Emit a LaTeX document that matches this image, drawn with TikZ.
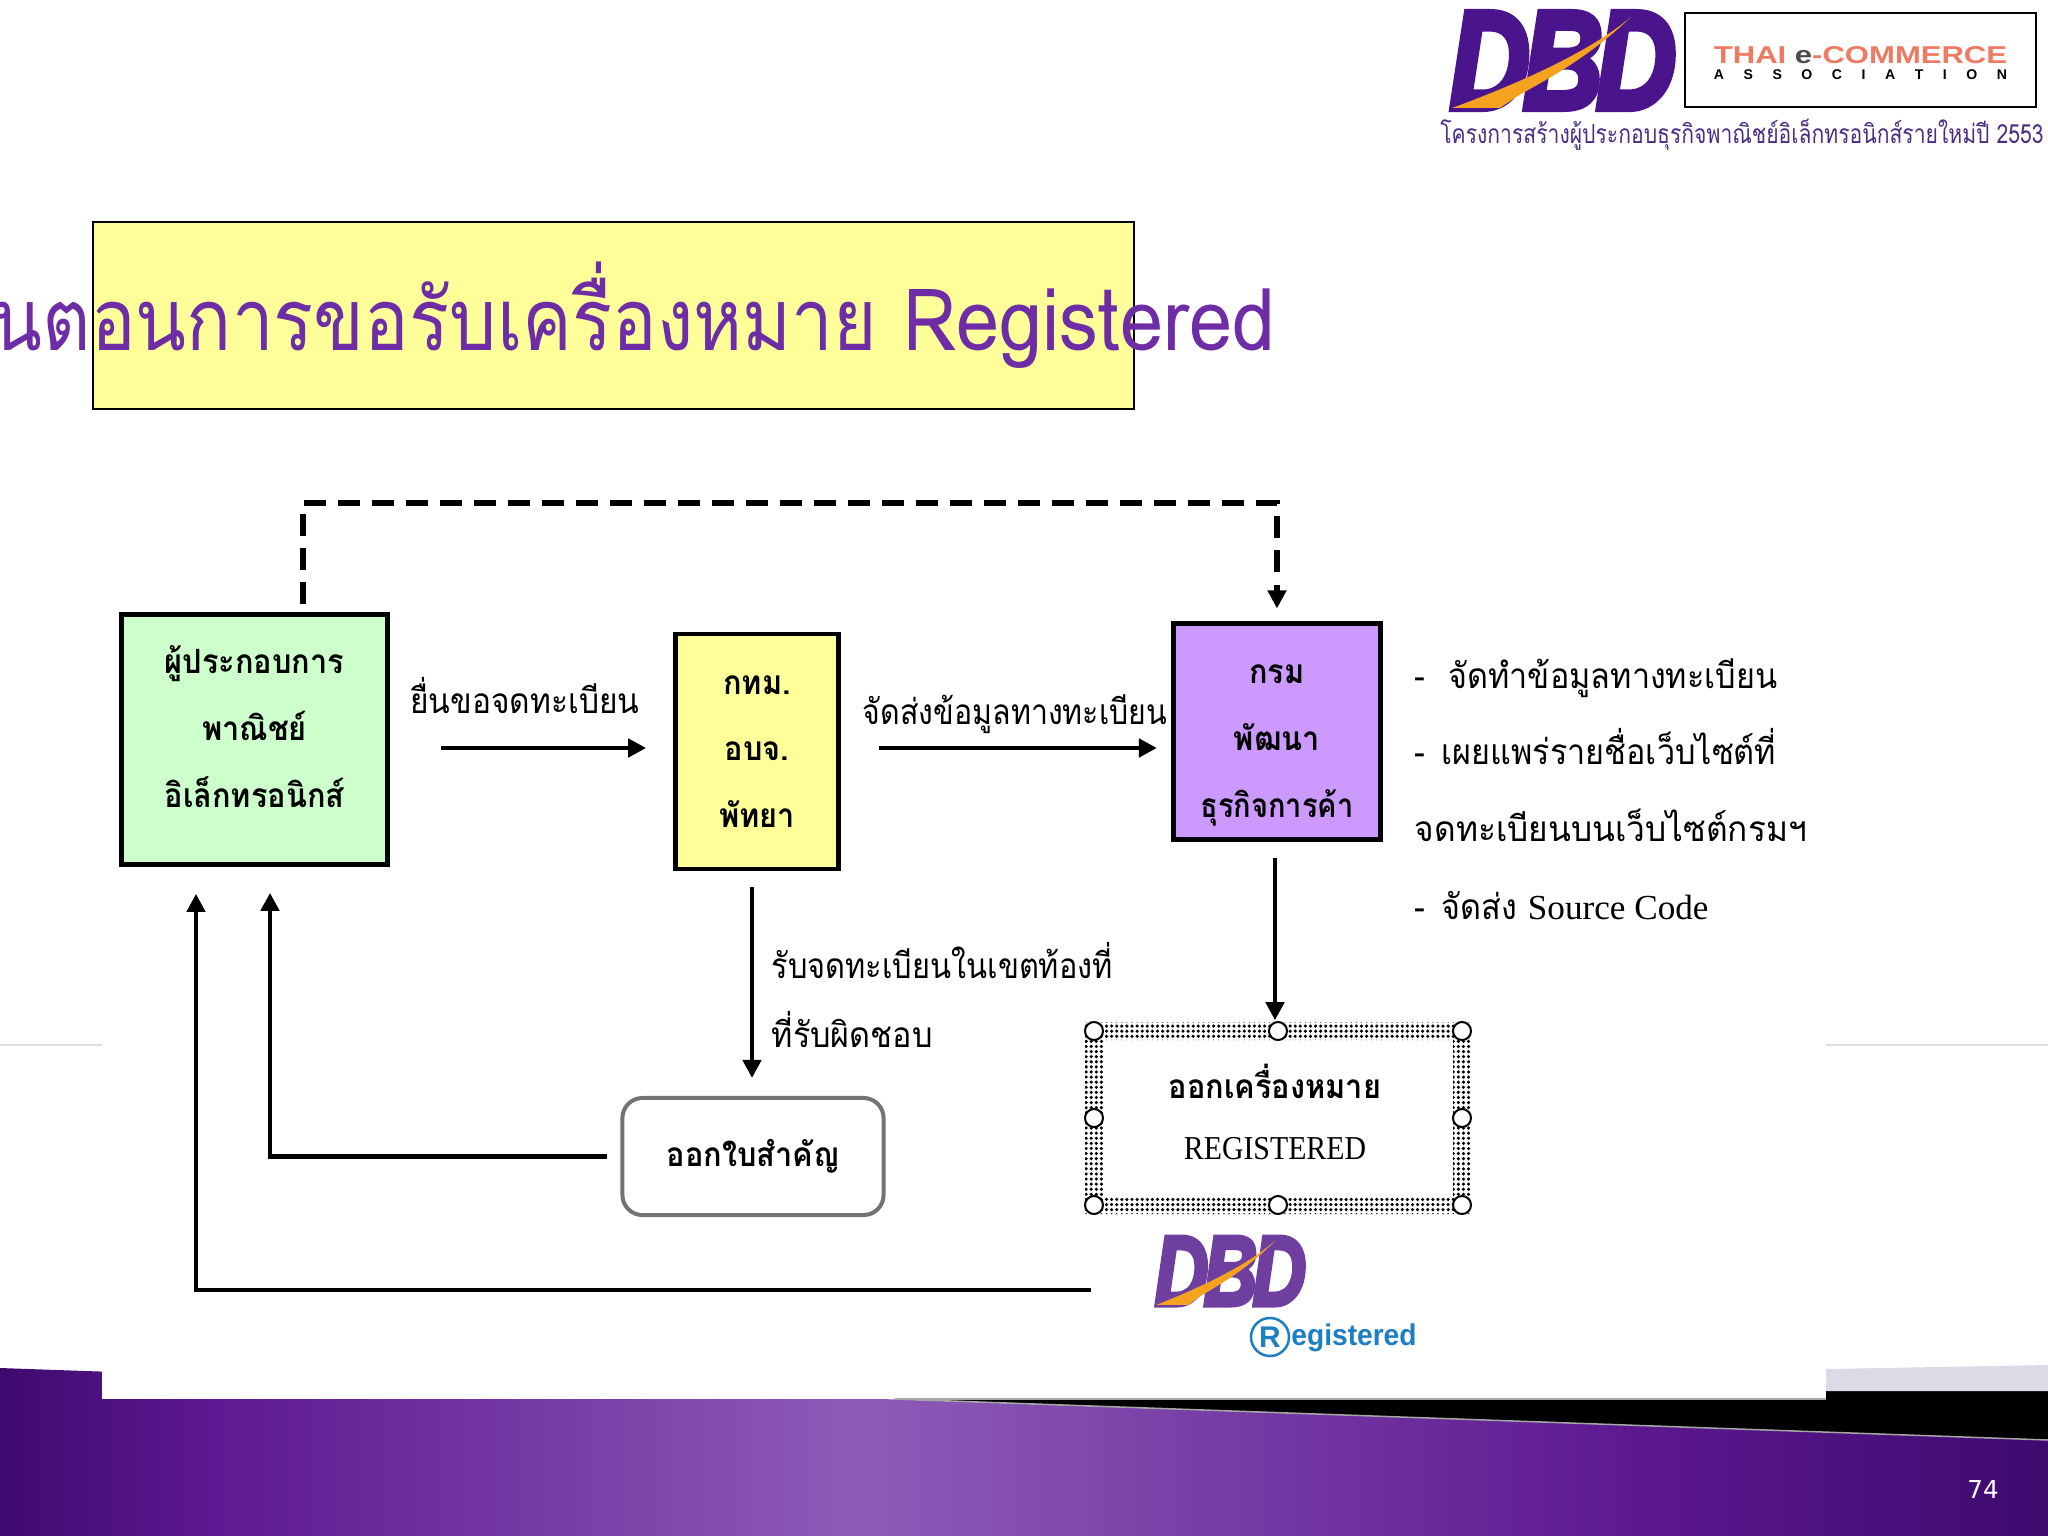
\documentclass[tikz,border=0pt]{standalone}
\usepackage{fontspec}
\usepackage{tikz}
\usetikzlibrary{arrows.meta}
\usetikzlibrary{patterns.meta}
\newfontfamily\thaifont[Script=Thai,FakeStretch=0.92]{Loma}
\newfontfamily\titlefont[Script=Thai,FakeStretch=0.9]{Loma}
\newfontfamily\titlethai[Script=Thai,FakeStretch=0.865]{Loma}
\newfontfamily\latinfont{Liberation Serif}
\newfontfamily\logofont{Liberation Sans}
\newfontfamily\dbdfont[FakeBold=5]{Liberation Sans}
\newfontfamily\numfont{DejaVu Sans}
\definecolor{bandlow}{HTML}{3E0A6E}
\definecolor{bandmid}{HTML}{5C1890}
\definecolor{bandtop}{HTML}{8E5CB8}
\definecolor{dbdpurple}{HTML}{4A148C}
\definecolor{dbdlight}{HTML}{6F3FA0}
\definecolor{swoosh}{HTML}{F5A21E}
\definecolor{titlepurple}{HTML}{6E2CA6}
\definecolor{tecred}{HTML}{EE7A62}
\definecolor{regblue}{HTML}{1C7FC4}
\definecolor{boxgreen}{HTML}{CCFFCC}
\definecolor{boxyellow}{HTML}{FFFF99}
\definecolor{boxpurple}{HTML}{CC99FF}
\definecolor{lavender}{HTML}{DDD9E6}
\definecolor{captionpurple}{HTML}{4B2E83}
\pgfdeclarehorizontalshading{bandshade}{100bp}{color(0bp)=(bandlow); color(25bp)=(bandlow); color(30bp)=(bandmid); color(46bp)=(bandtop); color(65bp)=(bandmid); color(75bp)=(bandlow); color(100bp)=(bandlow)}
% width of a text forced, height left alone
\newcommand{\fitwidth}[2]{\resizebox{#1}{\height}{#2}}
% rows of a box, raised without changing the size of the box
\newcommand{\boxrows}[2]{\raisebox{#1}[0pt][0pt]{\begin{tabular}{@{}c@{}}#2\end{tabular}}}
% swoosh over a DBD logo, box given by corner and size
\newcommand{\dbdswoosh}[3]{
	\fill[swoosh,shift={(#1)},xscale=#2,yscale=#3]
		(0.01,0.97) .. controls (0.25,0.77) and (0.60,0.45) .. (0.80,0.07)
		.. controls (0.60,0.50) and (0.40,0.72) .. (0.30,0.85)
		-- (0.22,0.97) -- cycle;
}

\begin{document}
\begin{tikzpicture}[x=0.01cm,y=-0.01cm,shorten >=0pt,draw=black!100]
	\def \dashlevel{503}
	\def \rowone{748}
	\tikzstyle{box}=[rectangle,draw=black!100,line width=0.045cm,inner sep=0pt,align=center,
		font=\thaifont\bfseries\fontsize{9.5}{19}\selectfont]
	\tikzstyle{g-node}=[box,fill=boxgreen,minimum width=2.66cm,minimum height=2.5cm]
	\tikzstyle{y-node}=[box,fill=boxyellow,minimum width=1.63cm,minimum height=2.35cm]
	\tikzstyle{p-node}=[box,fill=boxpurple,line width=0.05cm,minimum width=2.07cm,minimum height=2.15cm]
	\tikzstyle{c-node}=[box,draw=black!55,line width=0.04cm,rounded corners=0.2cm,minimum width=2.61cm,minimum height=1.17cm]
	\tikzstyle{s-node}=[rectangle,inner sep=0pt,align=center,minimum width=3.68cm,minimum height=1.74cm,
		font=\thaifont\bfseries\fontsize{9.5}{17.6}\selectfont]
	\tikzstyle{handle}=[circle,draw=black!100,fill=white,line width=0.02cm,inner sep=0pt,minimum size=0.18cm]
	\tikzstyle{annot}=[inner sep=0pt,font=\thaifont\fontsize{10}{12}\selectfont]
	\tikzstyle{flow}=[draw=black!100,line width=0.045cm,-{Triangle[length=1.8mm,width=1.8mm]}]
	\tikzstyle{dash-flow}=[flow,line width=0.055cm,dash pattern=on 2.2mm off 1.2mm]

	\useasboundingbox (0,0) rectangle (2048,1536);
	\clip (0,0) rectangle (2048,1536);

	% slide background
	\fill[black!100] (895,1399) -- (1826,1391) -- (2048,1391) -- (2048,1440) -- cycle;
	\fill[lavender] (1826,1369) -- (2048,1365) -- (2048,1391) -- (1826,1391) -- cycle;
	\shade[shading=bandshade] (0,1368) -- (2048,1440) -- (2048,1536) -- (0,1536) -- cycle;
	\draw[black!35,line width=0.015cm] (895,1399) -- (2048,1440);
	\fill[white] (102,0) rectangle (1826,1399);
	\draw[black!35,line width=0.015cm] (895,1399) -- (1826,1399);
	\draw[lavender,line width=0.015cm] (0,1045) -- (102,1045);
	\draw[lavender,line width=0.015cm] (1826,1045) -- (2048,1045);
	\node[text=white,inner sep=0pt,font=\numfont\fontsize{7}{8}\selectfont] (pageno) at (1983,1490) {74};

	% title
	\node[draw=black!100,fill=boxyellow,line width=0.02cm,inner sep=0pt,minimum width=10.41cm,minimum height=1.87cm] (titlebox) at (613.5,315.5) {};
	\node[anchor=east,text=titlepurple,inner sep=0pt,font=\titlefont\fontsize{24.5}{28}\selectfont] (title) at (1276,314) {{\titlethai ขั้นตอนการขอรับเครื่องหมาย} Registered};

	% logos top right
	\node[inner sep=0pt,text=dbdpurple,font=\dbdfont\bfseries\itshape] (dbdtop) at (1563,60.5) {\resizebox{2.26cm}{0.96cm}{D\kern-.06em B\kern-.06em D}};
	\dbdswoosh{1450,10}{226}{101}
	\node[draw=black!100,line width=0.02cm,inner sep=0pt,minimum width=3.51cm,minimum height=0.94cm] (tecbox) at (1860.5,60) {};
	\node[inner sep=0pt,text=tecred,font=\logofont\bfseries] (tecname) at (1860.5,55) {\resizebox{2.93cm}{0.17cm}{THAI {\color{black!70}e}-COMMERCE}};
	\node[inner sep=0pt,font=\logofont\bfseries\fontsize{4}{5}\selectfont] (tecsub) at (1860.5,75) {\makebox[2.93cm][s]{A\hfill S\hfill S\hfill O\hfill C\hfill I\hfill A\hfill T\hfill I\hfill O\hfill N}};
	\node[inner sep=0pt,text=captionpurple,font=\thaifont\fontsize{7.5}{8}\selectfont] (project) at (1742,135) {\fitwidth{6.03cm}{โครงการสร้างผู้ประกอบธุรกิจพาณิชย์อิเล็กทรอนิกส์รายใหม่ปี 2553}};

	% boxes
	\node[g-node] (trader) at (254.5,739.5) {\boxrows{1.3pt}{ผู้ประกอบการ\\พาณิชย์\\อิเล็กทรอนิกส์}};
	\node[y-node] (local) at (757,751.5) {กทม.\\อบจ.\\พัทยา};
	\node[p-node] (dept) at (1277,731.5) {\boxrows{-3.9pt}{กรม\\พัฒนา\\\fitwidth{1.53cm}{ธุรกิจการค้า}}};
	\node[c-node] (cert) at (753,1156.5) {ออกใบสำคัญ};
	\fill[pattern={Dots[distance=1.45pt,radius=0.5pt]},even odd rule] (1085,1022) rectangle (1471,1214) (1103,1040) rectangle (1453,1196);
	\node[s-node] (mark) at (1275,1112) {ออกเครื่องหมาย\\{\latinfont\mdseries \fitwidth{1.82cm}{REGISTERED}}};
	\foreach \px/\py/\nm in {1094/1031/nw,1278/1031/n,1462/1031/ne,1094/1118/w,1462/1118/e,1094/1205/sw,1278/1205/s,1462/1205/se}
		\node[handle] (mark-\nm) at (\px,\py) {};

	% lower logo
	\node[inner sep=0pt,text=dbdlight,font=\dbdfont\bfseries\itshape] (dbdlow) at (1230.5,1271) {\resizebox{1.51cm}{0.68cm}{D\kern-.06em B\kern-.06em D}};
	\dbdswoosh{1155,1235}{151}{72}
	\node[circle,draw=regblue,line width=0.025cm,inner sep=0pt,minimum size=0.38cm,text=regblue,font=\logofont\bfseries\fontsize{8.5}{9}\selectfont] (regmark) at (1270,1337) {R};
	\node[inner sep=0pt,text=regblue,font=\logofont\bfseries\fontsize{8.5}{9}\selectfont] (regtext) at (1354,1338) {\fitwidth{1.25cm}{egistered}};

	% labels
	\node[annot] (submit) at (525,696) {\fitwidth{2.29cm}{ยื่นขอจดทะเบียน}};
	\node[annot] (send) at (1015,714) {\fitwidth{3.04cm}{จัดส่งข้อมูลทางทะเบียน}};
	\node[annot,anchor=west] (accept) at (771,960) {\fitwidth{3.41cm}{รับจดทะเบียนในเขตท้องที่}};
	\node[annot,anchor=west] (resp) at (771,1029) {ที่รับผิดชอบ};
	\node[annot,anchor=west] (item1) at (1414,678) {-\hspace{2.3mm}จัดทำข้อมูลทางทะเบียน};
	\node[annot,anchor=west] (item2) at (1414,747) {-\hspace{1.6mm}เผยแพร่รายชื่อเว็บไซต์ที่};
	\node[annot,anchor=west] (item3) at (1414,825) {\fitwidth{3.92cm}{จดทะเบียนบนเว็บไซต์กรมฯ}};
	\node[annot,anchor=west] (item4) at (1414,906) {-\hspace{1.6mm}จัดส่ง {\latinfont Source Code}};

	% corners of the long connectors
	\coordinate (row) at (0,\rowone);
	\coordinate (dash-a) at (303,\dashlevel);
	\coordinate (dash-b) at (1277,\dashlevel);
	\coordinate (cert-turn) at (270,1157);
	\coordinate (logo-turn) at (196,1290);
	\coordinate (down-a) at (752,900);
	\coordinate (down-b) at (1275,900);

	\path
		(trader.east |- row)	edge[flow,shorten <=5.1mm,shorten >=2.7mm]	(local.west |- row)
		(local.east |- row)	edge[flow,shorten <=3.8mm,shorten >=1.4mm]	(dept.west |- row)
		(local.south -| down-a)	edge[flow,shorten <=1.6mm,shorten >=1.8mm]	(cert.north -| down-a)
		(dept.south -| down-b)	edge[flow,shorten <=1.6mm,shorten >=0.4mm]	(mark.north -| down-b);
	\draw[dash-flow,shorten <=0.8mm,shorten >=1.3mm] (trader.north -| dash-a) -- (dash-a) -- (dash-b) -- (dept.north -| dash-b);
	\draw[flow,shorten <=1.3mm,shorten >=2.6mm] (cert.west) -- (cert.west -| cert-turn) -- (trader.south -| cert-turn);
	\draw[flow,shorten <=6.3mm,shorten >=2.7mm] (dbdlow.west |- logo-turn) -- (logo-turn) -- (trader.south -| logo-turn);
\end{tikzpicture}
\end{document}
